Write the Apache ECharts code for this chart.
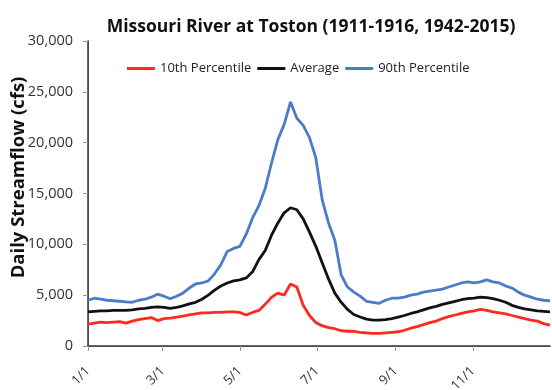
<!DOCTYPE html>
<html>
<head>
<meta charset="utf-8">
<script src="https://cdn.jsdelivr.net/npm/echarts@6/dist/echarts.min.js"></script>
<style>
  html, body { margin: 0; padding: 0; background: #fff; }
  #chart { width: 552px; height: 390px; }
</style>
</head>
<body>
<div id="chart"></div>
<script>
// Day of year (0 = Jan 1) for each sampled point
const days = [0,5,10,15,20,25,30,35,40,45,50,55,60,65,70,75,80,85,90,95,100,105,110,115,120,125,130,135,140,145,150,155,160,165,170,175,180,185,190,195,200,205,210,215,220,225,230,235,240,245,250,255,260,265,270,275,280,285,290,295,300,305,310,315,320,325,330,335,340,345,350,355,360,365];

// Daily streamflow, cfs
const p10 = [2150,2250,2350,2300,2350,2400,2250,2450,2600,2700,2800,2500,2700,2750,2850,2950,3050,3150,3250,3250,3300,3300,3350,3350,3300,3050,3300,3500,4100,4800,5200,5000,6100,5800,4000,3000,2300,2000,1800,1700,1500,1450,1450,1350,1300,1250,1250,1300,1350,1400,1550,1750,1900,2100,2300,2450,2700,2900,3050,3200,3350,3450,3600,3500,3350,3250,3150,3000,2850,2700,2550,2450,2200,2050];
const avg = [3350,3400,3450,3450,3500,3500,3500,3550,3650,3700,3800,3850,3800,3700,3800,3950,4150,4300,4600,5000,5500,5900,6200,6400,6500,6700,7300,8500,9400,10900,12100,13100,13600,13400,12500,11200,9800,8200,6600,5200,4300,3600,3100,2850,2650,2550,2550,2600,2700,2850,3000,3200,3350,3550,3750,3900,4100,4250,4400,4550,4650,4700,4800,4750,4650,4500,4300,4000,3800,3650,3550,3450,3400,3350];
const p90 = [4500,4700,4600,4500,4450,4400,4350,4300,4500,4600,4800,5100,4900,4650,4900,5200,5700,6100,6200,6400,7100,8000,9300,9600,9800,11000,12600,13800,15500,18000,20300,21800,24000,22400,21700,20500,18500,14400,12100,10400,7000,5800,5300,4900,4400,4300,4200,4500,4700,4700,4800,5000,5100,5300,5400,5500,5600,5800,6000,6200,6300,6200,6300,6500,6300,6200,5900,5700,5300,5000,4800,4600,4500,4450];

// Month tick positions and their labels
const tickDays = [0, 59, 120, 181, 243, 304];
const tickLabels = ['1/1', '3/1', '5/1', '7/1', '9/1', '11/1'];

const seriesNames = ['10th Percentile', 'Average', '90th Percentile'];
const seriesColors = ['#ff2a1f', '#111111', '#4a7cc8'];

const pair = vals => days.map((d, i) => [d, vals[i]]);
const FONT = '"Open Sans", sans-serif';

const chart = echarts.init(document.getElementById('chart'));
chart.setOption({
  animation: false,
  backgroundColor: '#ffffff',
  title: {
    text: 'Missouri River at Toston (1911-1916, 1942-2015)',
    left: 306, top: 13, textAlign: 'center',
    textStyle: { fontFamily: FONT, fontWeight: 'bold', fontSize: 17.5, color: '#111' }
  },
  legend: {
    left: 122, top: 57,
    icon: 'rect', itemWidth: 28, itemHeight: 3, itemGap: 6,
    textStyle: { fontFamily: FONT, fontSize: 13, color: '#222' },
    data: seriesNames
  },
  grid: { left: 88, right: 2, top: 41, bottom: 44, containLabel: false, outerBoundsMode: 'none' },
  xAxis: [{
    type: 'value', min: 0, max: 365,
    axisLine: { lineStyle: { color: '#999', width: 1 } },
    axisTick: { customValues: tickDays, length: 5, lineStyle: { color: '#999' } },
    axisLabel: {
      customValues: tickDays,
      formatter: v => tickLabels[tickDays.indexOf(v)],
      rotate: 45, margin: 23,
      fontFamily: FONT, fontSize: 13, color: '#333'
    },
    splitLine: { show: false }
  }, {
    type: 'value', min: 0, max: 365, position: 'top',
    axisLine: { lineStyle: { color: '#333', width: 1.5 } },
    axisTick: { show: false }, axisLabel: { show: false }, splitLine: { show: false }
  }],
  yAxis: [{
    type: 'value', min: 0, max: 30000, interval: 5000,
    name: 'Daily Streamflow (cfs)',
    nameLocation: 'middle', nameGap: 60, nameMoveOverlap: false,
    nameTextStyle: { fontFamily: FONT, fontWeight: 'bold', fontSize: 18.5, color: '#111', padding: [0, 0, 0, 32] },
    axisLine: { show: true, lineStyle: { color: '#999', width: 1 } },
    axisTick: { show: true, length: 5, lineStyle: { color: '#999' } },
    axisLabel: {
      formatter: v => v.toLocaleString('en-US'),
      margin: 15, fontFamily: FONT, fontSize: 14.5, color: '#333'
    },
    splitLine: { show: false }
  }, {
    type: 'value', min: 0, max: 30000, position: 'right',
    axisLine: { show: true, lineStyle: { color: '#333', width: 1.5 } },
    axisTick: { show: false }, axisLabel: { show: false }, splitLine: { show: false }
  }],
  series: [p10, avg, p90].map((vals, i) => ({
    name: seriesNames[i],
    type: 'line',
    data: pair(vals),
    showSymbol: false,
    symbol: 'none',
    lineStyle: { color: seriesColors[i], width: 2.8 },
    itemStyle: { color: seriesColors[i] }
  }))
});
</script>
</body>
</html>
